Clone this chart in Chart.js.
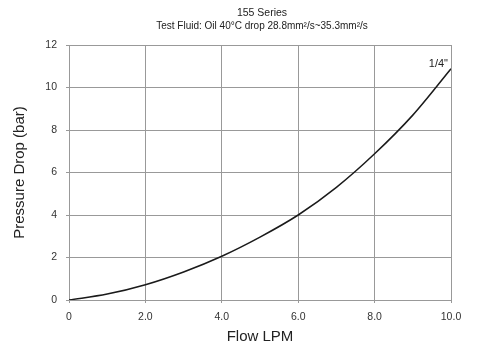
<!DOCTYPE html>
<html>
<head>
<meta charset="utf-8">
<script src="https://cdn.jsdelivr.net/npm/chart.js@4.4.1/dist/chart.umd.min.js"></script>
<style>
  html, body { margin: 0; padding: 0; background: #fff; }
  #wrap { width: 485px; height: 354px; }
</style>
</head>
<body>
<div id="wrap"><canvas id="c" width="485" height="354"></canvas></div>
<script>
const chartTitle = "155 Series";
const chartSubtitle = "Test Fluid: Oil 40°C drop 28.8mm²/s~35.3mm²/s";
const xAxisTitle = "Flow LPM";
const yAxisTitle = "Pressure Drop (bar)";
const seriesName = '1/4"';
const flowLPM = [0, 1, 2, 3, 4, 5, 6, 7, 8, 9, 10];
const pressureDrop = [0, 0.28, 0.72, 1.32, 2.06, 2.96, 4.0, 5.3, 6.88, 8.7, 10.88];
const xTicks = [0, 2, 4, 6, 8, 10];
const yTicks = [0, 2, 4, 6, 8, 10, 12];

const FONT = "'Liberation Sans', Arial, Helvetica, sans-serif";
const points = flowLPM.map((x, i) => ({ x: x, y: pressureDrop[i] }));

const headerPlugin = {
  id: 'header',
  afterDraw(chart) {
    const ctx = chart.ctx;
    const cx = (chart.chartArea.left + chart.chartArea.right) / 2 + 2;
    ctx.save();
    ctx.fillStyle = '#222';
    ctx.textAlign = 'center';
    ctx.textBaseline = 'middle';
    ctx.font = "10.5px " + FONT;
    ctx.fillText(chartTitle, cx, 13.5);
    ctx.font = "10px " + FONT;
    ctx.fillText(chartSubtitle, cx, 26);
    ctx.restore();
  }
};

const seriesLabelPlugin = {
  id: 'seriesLabel',
  afterDatasetsDraw(chart) {
    const meta = chart.getDatasetMeta(0);
    const last = meta.data[meta.data.length - 1];
    const ctx = chart.ctx;
    ctx.save();
    ctx.font = "11px " + FONT;
    ctx.fillStyle = '#222';
    ctx.textAlign = 'right';
    ctx.textBaseline = 'middle';
    ctx.fillText(seriesName, last.x - 3, last.y - 5);
    ctx.restore();
  }
};

new Chart(document.getElementById('c'), {
  type: 'line',
  data: {
    datasets: [{
      label: seriesName,
      data: points,
      borderColor: '#1a1a1a',
      borderWidth: 1.5,
      pointRadius: 0,
      fill: false,
      cubicInterpolationMode: 'monotone'
    }]
  },
  options: {
    responsive: false,
    animation: false,
    layout: { padding: { left: 4, right: 34, top: 45, bottom: 4 } },
    plugins: {
      legend: { display: false },
      tooltip: { enabled: false },
      title: { display: false }
    },
    scales: {
      x: {
        type: 'linear', min: 0, max: 10,
        afterBuildTicks(scale) { scale.ticks = xTicks.map(v => ({ value: v })); },
        afterFit(scale) { scale.height = 50; },
        ticks: {
          color: '#333', padding: 8,
          font: { family: FONT, size: 10.5 },
          maxRotation: 0,
          callback: v => v === 0 ? '0' : v.toFixed(1)
        },
        grid: { color: '#999', lineWidth: 1, tickLength: 3 },
        border: { color: '#999', width: 1 },
        title: {
          display: true, text: xAxisTitle, color: '#222',
          font: { family: FONT, size: 15, lineHeight: 1.2 },
          padding: { top: 0, bottom: 4 }
        }
      },
      y: {
        type: 'linear', min: 0, max: 12,
        afterBuildTicks(scale) { scale.ticks = yTicks.map(v => ({ value: v })); },
        afterFit(scale) { scale.width = 65; },
        ticks: {
          color: '#333', padding: 9,
          font: { family: FONT, size: 10.5 }
        },
        grid: { color: '#999', lineWidth: 1, tickLength: 3 },
        border: { color: '#999', width: 1 },
        title: {
          display: true, text: yAxisTitle, color: '#222',
          font: { family: FONT, size: 15, lineHeight: 1.2 },
          padding: { top: 7, bottom: 0 }
        }
      }
    }
  },
  plugins: [headerPlugin, seriesLabelPlugin]
});
</script>
</body>
</html>
